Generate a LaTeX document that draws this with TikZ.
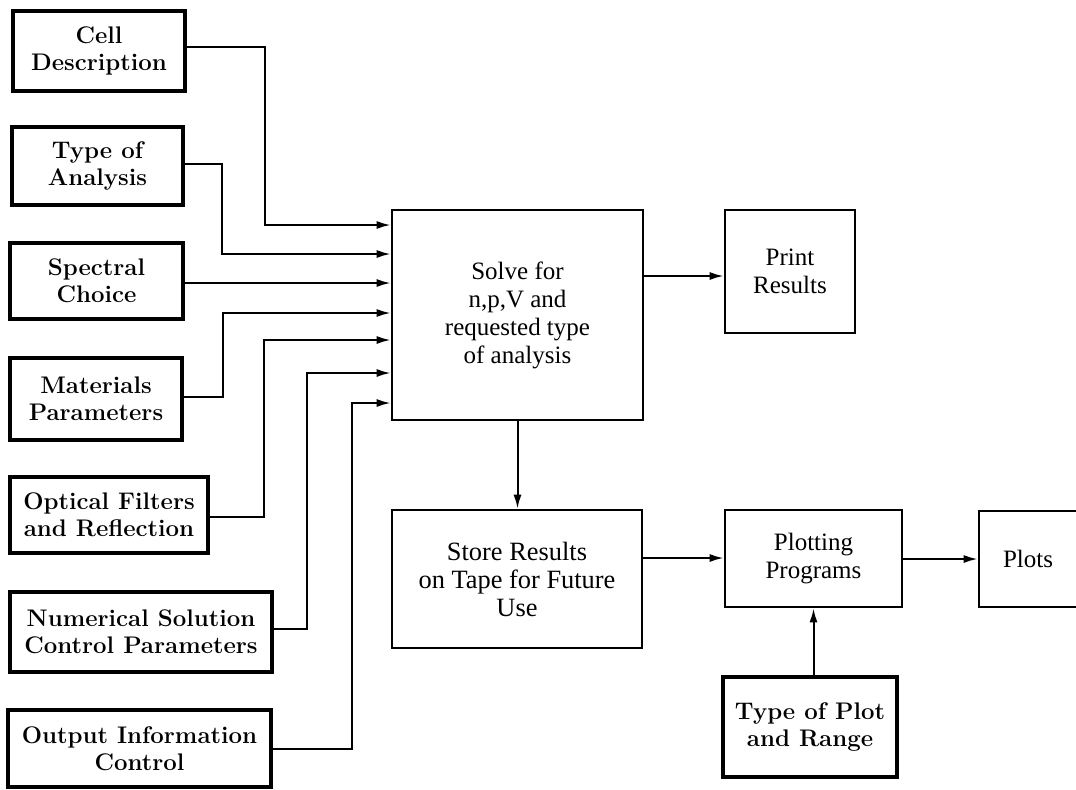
\documentclass[tikz,border=0pt]{standalone}
\usepackage{fontspec}
\newfontfamily\plainfont{Liberation Serif}
\usetikzlibrary{arrows.meta}
\begin{document}
\begin{tikzpicture}[x=0.5pt,y=-0.5pt,
  inbox/.style={draw, line width=2.1pt, inner sep=0pt, align=center,
    font=\fontsize{12}{13.6}\selectfont\bfseries},
  procbox/.style={draw, line width=1.3pt, inner sep=0pt, align=center,
    font=\plainfont\fontsize{12.5}{14}\selectfont},
  conn/.style={line width=1pt, -{Latex[length=7pt,width=4pt]}}
]
\useasboundingbox (0,0) rectangle (1076,789);

% input boxes
\node[inbox, minimum width=86pt,   minimum height=40pt]   (cell) at (99,51)      {Cell\\Description};
\node[inbox, minimum width=85.5pt, minimum height=39pt]   (type) at (97.5,166)   {Type of\\Analysis};
\node[inbox, minimum width=86.5pt, minimum height=38pt]   (spec) at (96.5,281)   {Spectral\\Choice};
\node[inbox, minimum width=86pt,   minimum height=41pt]   (mat)  at (96,399)     {Materials\\Parameters};
\node[inbox, minimum width=99pt,   minimum height=38pt]   (opt)  at (109,515)    {Optical Filters\\and Reflection};
\node[inbox, minimum width=131pt,  minimum height=40pt]   (num)  at (141,632)    {Numerical Solution\\Control Parameters};
\node[inbox, minimum width=131.5pt,minimum height=38.5pt] (outc) at (139.5,748.5) {Output Information\\Control};

% processing boxes
\node[procbox, minimum width=125.5pt, minimum height=105pt] (solve) at (517.5,315)
  {Solve for\\n,p,V and\\requested type\\of analysis};
\node[procbox, minimum width=65pt, minimum height=61.5pt] (print) at (790,271.5) {Print\\Results};
\node[procbox, minimum width=125pt, minimum height=69pt, font=\plainfont\fontsize{13.2}{14}\selectfont] (store) at (517,579)
  {Store Results\\on Tape for Future\\Use};
\node[procbox, minimum width=88.5pt, minimum height=48.5pt] (plotting) at (813.5,558.5) {Plotting\\Programs};
\node[procbox, minimum width=49pt, minimum height=48pt] (plots) at (1028,559) {Plots};
\node[inbox, minimum width=87pt, minimum height=50pt] (tplot) at (810,727) {Type of Plot\\and Range};

% connectors into solve box
\draw[conn] ([yshift=2pt]cell.east) -| (265,225) -- (solve.west |- 0,225);
\draw[conn] ([yshift=1pt]type.east) -| (222,254) -- (solve.west |- 0,254);
\draw[conn] ([yshift=-1pt]spec.east) -- (solve.west |- 0,283);
\draw[conn] ([yshift=1pt]mat.east) -| (223,313) -- (solve.west |- 0,313);
\draw[conn] ([yshift=-1pt]opt.east) -| (264,340) -- (solve.west |- 0,340);
\draw[conn] ([yshift=1.5pt]num.east) -| (307,373) -- (solve.west |- 0,373);
\draw[conn] (outc.east) -| (352,403) -- (solve.west |- 0,403);

% other connectors
\draw[conn] (solve.east |- 0,276) -- (print.west |- 0,276);
\draw[conn] (solve.south) -- (store.north -| solve.south);
\draw[conn] (store.east |- 0,558) -- (plotting.west |- 0,558);
\draw[conn] (plotting.east |- 0,559) -- (plots.west |- 0,559);
\draw[conn] (tplot.north -| plotting.south) -- (plotting.south);
\end{tikzpicture}
\end{document}
